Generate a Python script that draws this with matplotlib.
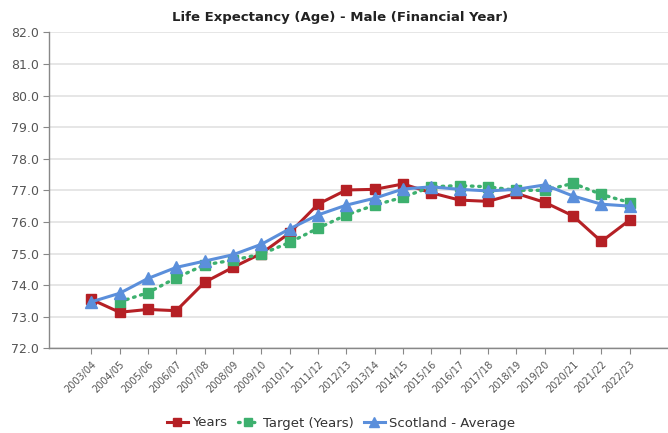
import numpy as np
import matplotlib
matplotlib.use("Agg")
import matplotlib.pyplot as plt

categories = ["2003/04", "2004/05", "2005/06", "2006/07", "2007/08", "2008/09",
              "2009/10", "2010/11", "2011/12", "2012/13", "2013/14", "2014/15",
              "2015/16", "2016/17", "2017/18", "2018/19", "2019/20", "2020/21",
              "2021/22", "2022/23"]
years = [73.55, 73.14, 73.23, 73.19, 74.09, 74.56, 75.00, 75.65, 76.56, 77.01,
         77.03, 77.20, 76.92, 76.69, 76.65, 76.90, 76.62, 76.19, 75.38, 76.06]
target = [np.nan, 73.47, 73.76, 74.23, 74.64, 74.79, 74.98, 75.35, 75.80, 76.22,
          76.53, 76.78, 77.11, 77.15, 77.11, 77.00, 77.00, 77.22, 76.87, 76.61]
scotland = [73.47, 73.74, 74.21, 74.56, 74.76, 74.96, 75.29, 75.78, 76.22, 76.53,
            76.75, 77.04, 77.11, 77.03, 76.98, 77.03, 77.17, 76.82, 76.56, 76.50]
yticks = [72.0, 73.0, 74.0, 75.0, 76.0, 77.0, 78.0, 79.0, 80.0, 81.0, 82.0]

plt.rcParams['font.family'] = ['DejaVu Sans']

fig = plt.figure(figsize=(6.68, 4.33), dpi=100)
ax = fig.add_axes([49/668, (433-348.3)/433, 1 - 49/668, (348.3-32.3)/433])

x = np.arange(len(categories))
red = "#B52025"
green = "#3DB06E"
blue = "#5B8FDB"

ax.plot(x, years, color=red, lw=2.2, marker="s", ms=7.5, mec=red, mfc=red,
        label="Years", zorder=3)
ax.plot(x, target, color=green, lw=2.4, ls=(0, (0.5, 1.7)), marker="s", ms=7.5,
        mec=green, mfc=green, label="Target (Years)", zorder=4, dash_capstyle="round")
ax.plot(x, scotland, color=blue, lw=2.2, marker="^", ms=8.5, mec=blue, mfc=blue,
        label="Scotland - Average", zorder=5)

ax.set_ylim(72.0, 82.0)
ax.set_yticks(yticks)
ax.set_yticklabels([f"{v:.1f}" for v in yticks], fontsize=9, color="#555555")
ax.set_xlim(-1.49, 20.35)
ax.set_xticks(x)
ax.set_xticklabels(categories, rotation=45, ha="right", rotation_mode="anchor",
                   fontsize=7, color="#555555")

ax.grid(axis="y", color="#E2E2E2", lw=1.2)
ax.set_axisbelow(True)
for s in ["top", "right"]:
    ax.spines[s].set_visible(False)
ax.spines["left"].set_color("#888888")
ax.spines["bottom"].set_color("#888888")
ax.spines["left"].set_linewidth(1.0)
ax.spines["bottom"].set_linewidth(1.0)
ax.tick_params(axis="y", length=4, color="#888888", pad=3)
ax.tick_params(axis="x", length=4, color="#888888", pad=4)

fig.text(0.5 + 6/668, 1 - 17/433, "Life Expectancy (Age) - Male (Financial Year)",
         ha="center", va="center", fontsize=9.5, fontweight="bold", color="#222222")

leg = fig.legend(loc="center", bbox_to_anchor=(341/668, 1 - 423/433), ncol=3,
                 frameon=False, fontsize=9.5, handlelength=1.6, handletextpad=0.3,
                 columnspacing=0.8, markerscale=0.85)
for t in leg.get_texts():
    t.set_color("#333333")

fig.savefig("out.png", dpi=100)
